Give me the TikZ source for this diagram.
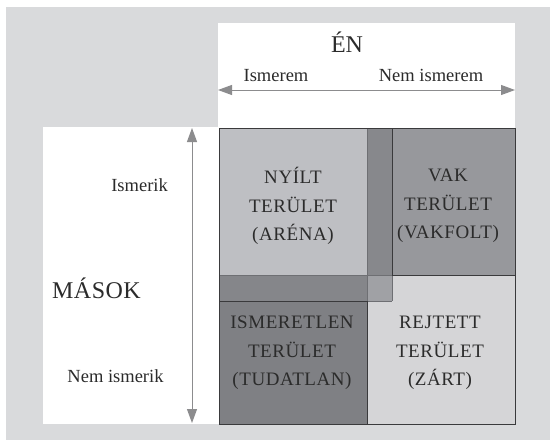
\documentclass[tikz,border=0pt]{standalone}
\usepackage{fontspec}
\setmainfont{Liberation Serif}
\usetikzlibrary{arrows.meta}
\definecolor{bg}{HTML}{D9DADC}
\definecolor{openc}{HTML}{BEBFC3}
\definecolor{vstrip}{HTML}{87888C}
\definecolor{blindc}{HTML}{97989C}
\definecolor{hstrip}{HTML}{85868A}
\definecolor{overlapc}{HTML}{A0A1A5}
\definecolor{unknownc}{HTML}{7F8084}
\definecolor{hiddenc}{HTML}{D5D5D7}
\definecolor{edgec}{HTML}{3A3A3C}
\definecolor{softedge}{HTML}{6E6F73}
\definecolor{arrowc}{HTML}{8C8C8E}
\definecolor{txt}{HTML}{2B2B2B}
\begin{document}
\begin{tikzpicture}[x=1pt,y=-1pt,
  axis/.style={draw=arrowc,line width=1pt,{Triangle[length=14pt,width=10pt]}-{Triangle[length=14pt,width=10pt]}},
  quad/.style={align=center,text=txt,inner sep=0pt,font=\fontsize{19}{28.5}\selectfont\addfontfeatures{LetterSpace=3}},
  lab/.style={text=txt,inner sep=0pt,font=\fontsize{18.5}{22}\selectfont},
  big/.style={text=txt,inner sep=0pt,font=\fontsize{24}{28}\selectfont\addfontfeatures{LetterSpace=2}},
  hard/.style={draw=edgec,line width=1pt},
  soft/.style={draw=softedge,line width=0.8pt}]
\useasboundingbox (0,0) rectangle (550,440);
\fill[white] (0,0) rectangle (550,440);
\fill[bg] (6,7) rectangle (550,440);
\fill[white] (218,23) rectangle (515,128);
\fill[white] (43,127) rectangle (219,424);
% quadrant fills
\fill[openc] (219,128) rectangle (367,275);
\fill[vstrip] (367,128) rectangle (392,275);
\fill[blindc] (392,128) rectangle (515,275);
\fill[hstrip] (219,275) rectangle (367,301);
\fill[overlapc] (367,275) rectangle (392,301);
\fill[unknownc] (219,301) rectangle (367,424);
\fill[hiddenc] (392,275) rectangle (515,301);
\fill[hiddenc] (367,301) rectangle (515,424);
% soft lines
\draw[soft] (367,128) -- (367,301);
\draw[soft] (219,275) -- (392,275);
\draw[soft] (392,275) -- (392,301);
\draw[soft] (367,301) -- (392,301);
% hard lines
\draw[hard] (392,128) -- (392,275) -- (515,275);
\draw[hard] (219,301) -- (367,301) -- (367,424);
\draw[hard] (219,128) rectangle (515,424);
% axes
\coordinate (hl) at (218,90);
\coordinate (hr) at (515,90);
\coordinate (vt) at (192,128);
\coordinate (vb) at (192,423);
\draw[axis] (hl) -- (hr);
\draw[axis] (vt) -- (vb);
% labels
\node[text=txt,inner sep=0pt,font=\fontsize{24}{28}\selectfont,anchor=base] (en) at (347,52) {ÉN};
\node[lab,anchor=base] (ismerem) at (276,81) {Ismerem};
\node[lab,anchor=base] (nemismerem) at (431,81) {Nem ismerem};
\node[lab,anchor=base east] (ismerik) at (168,191) {Ismerik};
\node[big,anchor=base west] (masok) at (52,298) {MÁSOK};
\node[lab,anchor=base] (nemismerik) at (115.5,382) {Nem ismerik};
% quadrant texts
\node[quad] (open) at (293,206) {NYÍLT\\TERÜLET\\(ARÉNA)};
\node[quad] (blind) at (448,206) {VAK\\TERÜLET\\(VAKFOLT)};
\node[quad] (unknown) at (292,353) {ISMERETLEN\\TERÜLET\\(TUDATLAN)};
\node[quad] (hidden) at (440,353) {REJTETT\\TERÜLET\\(ZÁRT)};
\end{tikzpicture}
\end{document}
